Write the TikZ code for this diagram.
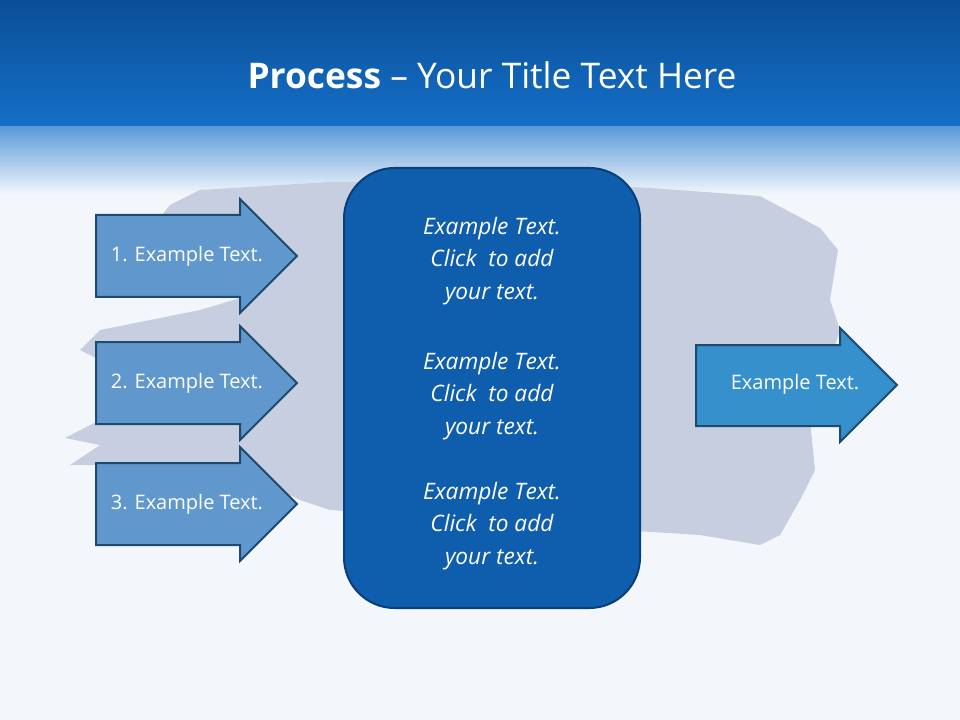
\documentclass[tikz,border=0pt]{standalone}
\usepackage{fontspec}
\setmainfont{Open Sans}
\begin{document}
\begin{tikzpicture}[x=0.75pt,y=-0.75pt,
  arr/.style={draw=arrline,line width=1.5pt,line join=miter},
  lbl/.style={text=white,font=\fontsize{15}{18}\selectfont},
  ctext/.style={text=white,align=center,font=\fontsize{17}{24.5}\selectfont\itshape}]
\definecolor{bgc}{HTML}{F3F7FC}
\definecolor{topc}{HTML}{0B4E98}
\definecolor{midc}{HTML}{1470C8}
\definecolor{arrline}{HTML}{1F4A70}
\definecolor{arrfill}{HTML}{6097CC}
\definecolor{boxfill}{HTML}{0F5DAD}
\definecolor{boxline}{HTML}{0A3E78}
\definecolor{rfill}{HTML}{3690CC}
\definecolor{brush}{HTML}{C6CEE0}
\useasboundingbox (0,0) rectangle (960,720);
\fill[bgc] (0,0) rectangle (960,720);
\shade[top color=topc,bottom color=midc] (0,0) rectangle (960,128);
\shade[top color=midc!70!white,bottom color=bgc] (0,127) rectangle (960,195);
\node[text=white,font=\fontsize{26.5}{30}\selectfont] (title) at (492,75) {\textbf{Process} -- Your Title Text Here};
% brush stroke
\fill[brush] (200,190) -- (330,182) -- (500,180) -- (650,188) -- (760,196) -- (820,228) -- (838,250) -- (830,300) -- (840,330) -- (810,420) -- (815,470) -- (800,500) -- (780,535) -- (760,545) -- (700,535) -- (620,530) -- (500,520) -- (330,510) -- (300,500) -- (240,470) -- (150,465) -- (70,465) -- (100,445) -- (65,438) -- (100,420) -- (200,410) -- (250,395) -- (150,385) -- (80,350) -- (100,330) -- (200,310) -- (250,295) -- (180,275) -- (100,260) -- (150,230) -- (170,205) -- cycle;
% left arrows
\foreach \n/\c in {1/256,2/383,3/504}{
  \draw[arr,fill=arrfill] (96,\c-41) -- (240,\c-41) -- (240,\c-57) -- (297,\c) -- (240,\c+57) -- (240,\c+41) -- (96,\c+41) -- cycle;
  \node[lbl] (l\n) at (187,\c) {\n. Example Text.};
}
% center box
\draw[fill=boxfill,draw=boxline,line width=1.5pt,rounded corners=38pt] (344,168) rectangle (640,608);
\node[ctext] (t1) at (492,261) {Example Text.\\Click\ \ to add\\your text.};
\node[ctext] (t2) at (492,396) {Example Text.\\Click\ \ to add\\your text.};
\node[ctext] (t3) at (492,526) {Example Text.\\Click\ \ to add\\your text.};
% right arrow
\draw[arr,fill=rfill] (696,345) -- (840,345) -- (840,328) -- (897,385) -- (840,442) -- (840,426) -- (696,426) -- cycle;
\node[lbl] (r) at (795,384) {Example Text.};
\end{tikzpicture}
\end{document}
